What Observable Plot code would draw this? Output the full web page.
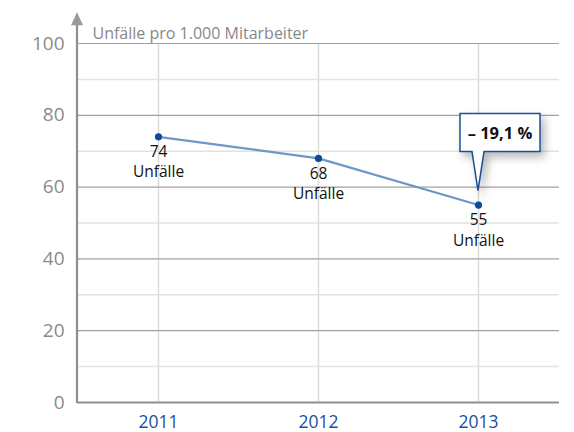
<!DOCTYPE html>
<html><head><meta charset="utf-8">
<script src="https://cdn.jsdelivr.net/npm/d3@7"></script>
<script src="https://cdn.jsdelivr.net/npm/@observablehq/plot@0.6"></script>
<style>
body{margin:0;background:#fff;font-family:"Open Sans",sans-serif;}
</style></head>
<body><div id="chart"></div>
<script>
const years = ["2011", "2012", "2013"];
const values = [74, 68, 55];
const pointLabels = ["74\nUnfälle", "68\nUnfälle", "55\nUnfälle"];
const majorTicks = [0, 20, 40, 60, 80, 100];
const minorTicks = [10, 30, 50, 70, 90];
const yTitle = "Unfälle pro 1.000 Mitarbeiter";
const calloutText = "– 19,1 %";
const axisTop = 108;

const data = years.map((y, i) => ({year: y, value: values[i], label: pointLabels[i]}));
const last = data[data.length - 1];

// y-axis line with arrow head, positioned through the y scale at the left frame edge
const yAxisArrow = Plot.ruleY([0], {
  render(index, scales, values, dims) {
    const x0 = dims.marginLeft;
    const yb = scales.y(0), yt = scales.y(axisTop);
    const g = d3.create("svg:g");
    g.append("line").attr("x1", x0).attr("x2", x0).attr("y1", yb + 1).attr("y2", yt + 8)
      .attr("stroke", "#8f8f8f").attr("stroke-width", 2.2);
    g.append("path").attr("d", `M${x0},${yt - 2} L${x0 + 6},${yt + 11} L${x0 - 6},${yt + 11} Z`)
      .attr("fill", "#9a9a9a");
    return g.node();
  }
});

const callout = Plot.dot([last], {
  x: "year", y: "value",
  render(index, scales, values) {
    const cx = values.x[index[0]], cy = values.y[index[0]];
    const g = d3.create("svg:g");
    const path = `M${cx-18},${cy-91} H${cx+62} V${cy-53} H${cx+6} L${cx},${cy-14} L${cx-6},${cy-53} H${cx-18} Z`;
    g.append("path").attr("d", path)
      .attr("fill", "#fff").attr("stroke", "#1a4f9a").attr("stroke-width", 1.5)
      .style("filter", "drop-shadow(4px 5px 4px rgba(0,0,0,0.28))");
    g.append("text").attr("x", cx + 22).attr("y", cy - 66)
      .attr("text-anchor", "middle").attr("font-weight", "bold")
      .attr("font-size", 16.5).attr("fill", "#111").text(calloutText);
    return g.node();
  }
});

const chart = Plot.plot({
  width: 574, height: 432,
  marginLeft: 77, marginRight: 15, marginTop: 43, marginBottom: 30,
  style: {fontFamily: "'Open Sans', sans-serif", background: "#fff"},
  x: {type: "point", domain: years, padding: 0.5, label: null},
  y: {domain: [0, 100], label: null},
  marks: [
    Plot.ruleX(years, {stroke: "#dcdcdc", strokeWidth: 1.5}),
    Plot.ruleY(minorTicks, {stroke: "#e2e2e2", strokeWidth: 1.5}),
    Plot.ruleY(majorTicks.filter(d => d > 0), {stroke: "#a0a0a0", strokeWidth: 1.2}),
    Plot.ruleY([0], {stroke: "#8f8f8f", strokeWidth: 2.2}),
    yAxisArrow,
    Plot.axisY(majorTicks, {tickSize: 0, tickPadding: 13, fontSize: 19, fill: "#8a8a8a", label: null}),
    Plot.axisX(years, {tickSize: 0, tickPadding: 13, fontSize: 17.5, fill: "#1a4f9a", label: null}),
    Plot.text([yTitle], {frameAnchor: "top-left", dx: 15, dy: -16, textAnchor: "start", fontSize: 16, fill: "#888"}),
    Plot.line(data, {x: "year", y: "value", stroke: "#7096c8", strokeWidth: 2.2}),
    Plot.dot(data, {x: "year", y: "value", r: 3.6, fill: "#0d4a9a", stroke: "none"}),
    Plot.text(data, {x: "year", y: "value", text: "label", dy: 24, fontSize: 15.5, lineHeight: 1.3, fill: "#111"}),
    callout
  ]
});
document.getElementById("chart").appendChild(chart);
</script>
</body></html>
